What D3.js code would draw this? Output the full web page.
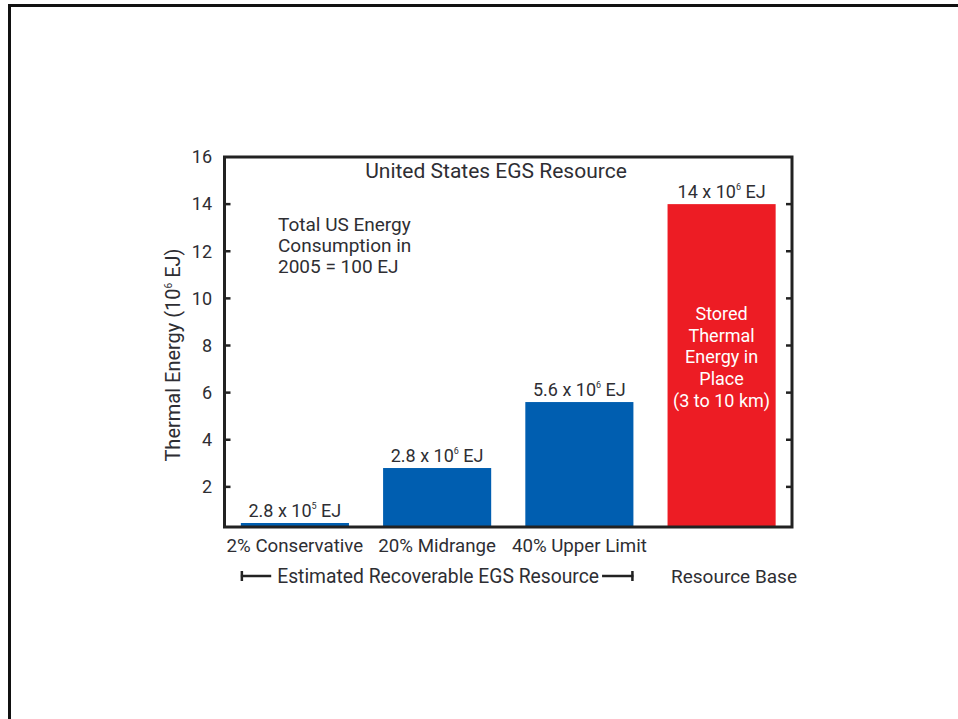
<!DOCTYPE html>
<html>
<head>
<meta charset="utf-8">
<script src="https://cdn.jsdelivr.net/npm/d3@7"></script>
<style>
  html, body { margin: 0; padding: 0; background: #fff; }
  svg { display: block; }
  text { font-family: Roboto, "DejaVu Sans", sans-serif; fill: #2e2e33; }
</style>
</head>
<body>
<svg id="chart" width="958" height="719"></svg>
<script>
// ---- data ----
const categories = ["2% Conservative", "20% Midrange", "40% Upper Limit", "Resource Base"];
const values = [0.28, 2.8, 5.6, 14];               // 10^6 EJ
const valueMantissa = ["2.8", "2.8", "5.6", "14"];
const valueExponent = ["5", "6", "6", "6"];
const barColors = ["#005eb0", "#005eb0", "#005eb0", "#ed1c24"];
const yTicks = [2, 4, 6, 8, 10, 12, 14, 16];
const xLabels = ["2% Conservative", "20% Midrange", "40% Upper Limit"];
const groupLabel = "Estimated Recoverable EGS Resource";
const baseLabel = "Resource Base";
const title = "United States EGS Resource";
const noteLines = ["Total US Energy", "Consumption in", "2005 = 100 EJ"];
const barNoteLines = ["Stored", "Thermal", "Energy in", "Place", "(3 to 10 km)"];

// ---- layout ----
const svg = d3.select("#chart");
const box = { left: 224.5, right: 792, top: 157, bottom: 527 };

// outer frame
svg.append("rect")
  .attr("x", 9.5).attr("y", 5.5)
  .attr("width", 1000).attr("height", 800)
  .attr("fill", "none").attr("stroke", "#111").attr("stroke-width", 3);

const x = d3.scaleBand()
  .domain(categories)
  .range([box.left, box.right])
  .paddingInner(0.24)
  .paddingOuter(0.115);

const y = d3.scaleLinear().domain([0, 16]).range([534, box.top]);

// bars
svg.append("g").selectAll("rect")
  .data(values)
  .join("rect")
  .attr("x", (d, i) => x(categories[i]))
  .attr("width", x.bandwidth())
  .attr("y", d => Math.min(y(d), box.bottom - 4))
  .attr("height", d => box.bottom - Math.min(y(d), box.bottom - 4))
  .attr("fill", (d, i) => barColors[i]);

// ticks (inside, both sides)
const tickLen = 6;
const tickVals = yTicks.filter(t => t < 16);
svg.append("g").selectAll("line.l")
  .data(tickVals).join("line")
  .attr("x1", box.left).attr("x2", box.left + tickLen)
  .attr("y1", d => y(d)).attr("y2", d => y(d))
  .attr("stroke", "#222").attr("stroke-width", 2.5);
svg.append("g").selectAll("line.r")
  .data(tickVals).join("line")
  .attr("x1", box.right - tickLen).attr("x2", box.right)
  .attr("y1", d => y(d)).attr("y2", d => y(d))
  .attr("stroke", "#222").attr("stroke-width", 2.5);

// tick labels
svg.append("g").selectAll("text")
  .data(yTicks).join("text")
  .attr("x", 212).attr("y", d => y(d))
  .attr("dy", "0.35em")
  .attr("text-anchor", "end")
  .attr("font-size", 18)
  .text(d => d);

// plot box
svg.append("rect")
  .attr("x", box.left).attr("y", box.top)
  .attr("width", box.right - box.left).attr("height", box.bottom - box.top)
  .attr("fill", "none").attr("stroke", "#222").attr("stroke-width", 3);

// title
svg.append("text")
  .attr("x", 496).attr("y", 178)
  .attr("text-anchor", "middle")
  .attr("font-size", 21)
  .text(title);

// y label
const yl = svg.append("text")
  .attr("transform", "translate(180," + 355 + ") rotate(-90)")
  .attr("text-anchor", "middle")
  .attr("font-size", 20);
yl.append("tspan").text("Thermal Energy (10");
yl.append("tspan").attr("font-size", 10).attr("dy", -8).text("6");
yl.append("tspan").attr("dy", 8).text(" EJ)");

// note
svg.append("g").selectAll("text")
  .data(noteLines).join("text")
  .attr("x", 278).attr("y", (d, i) => 231 + i * 21)
  .attr("font-size", 19)
  .text(d => d);

// value labels
values.forEach((v, i) => {
  const top = Math.min(y(v), box.bottom - 4);
  const t = svg.append("text")
    .attr("x", x(categories[i]) + x.bandwidth() / 2)
    .attr("y", top - 6)
    .attr("text-anchor", "middle")
    .attr("font-size", 18);
  t.append("tspan").text(valueMantissa[i] + " x 10");
  t.append("tspan").attr("font-size", 9).attr("dy", -8).text(valueExponent[i]);
  t.append("tspan").attr("dy", 8).text(" EJ");
});

// red bar note
const cx4 = x(categories[3]) + x.bandwidth() / 2;
svg.append("g").selectAll("text")
  .data(barNoteLines).join("text")
  .attr("x", cx4).attr("y", (d, i) => 320 + i * 21.7)
  .attr("text-anchor", "middle")
  .attr("font-size", 18)
  .style("fill", "#fff")
  .text(d => d);

// category labels
svg.append("g").selectAll("text")
  .data(xLabels).join("text")
  .attr("x", (d, i) => x(categories[i]) + x.bandwidth() / 2)
  .attr("y", 552)
  .attr("text-anchor", "middle")
  .attr("font-size", 18.7)
  .text(d => d);

// group bracket
const gx1 = x(categories[0]);
const gx2 = x(categories[2]) + x.bandwidth();
const gy = 576;
const gText = svg.append("text")
  .attr("x", (gx1 + gx2) / 2 + 1).attr("y", 583)
  .attr("text-anchor", "middle")
  .attr("font-size", 19.3)
  .text(groupLabel);
const bb = gText.node().getBBox();
const br = svg.append("g").attr("stroke", "#222").attr("stroke-width", 2.5);
br.append("line").attr("x1", gx1).attr("x2", bb.x - 6).attr("y1", gy).attr("y2", gy);
br.append("line").attr("x1", bb.x + bb.width + 3).attr("x2", gx2).attr("y1", gy).attr("y2", gy);
br.append("line").attr("x1", gx1 + 1).attr("x2", gx1 + 1).attr("y1", gy - 5).attr("y2", gy + 5);
br.append("line").attr("x1", gx2 - 1).attr("x2", gx2 - 1).attr("y1", gy - 5).attr("y2", gy + 5);

svg.append("text")
  .attr("x", 734).attr("y", 583)
  .attr("text-anchor", "middle")
  .attr("font-size", 19)
  .text(baseLabel);
</script>
</body>
</html>
